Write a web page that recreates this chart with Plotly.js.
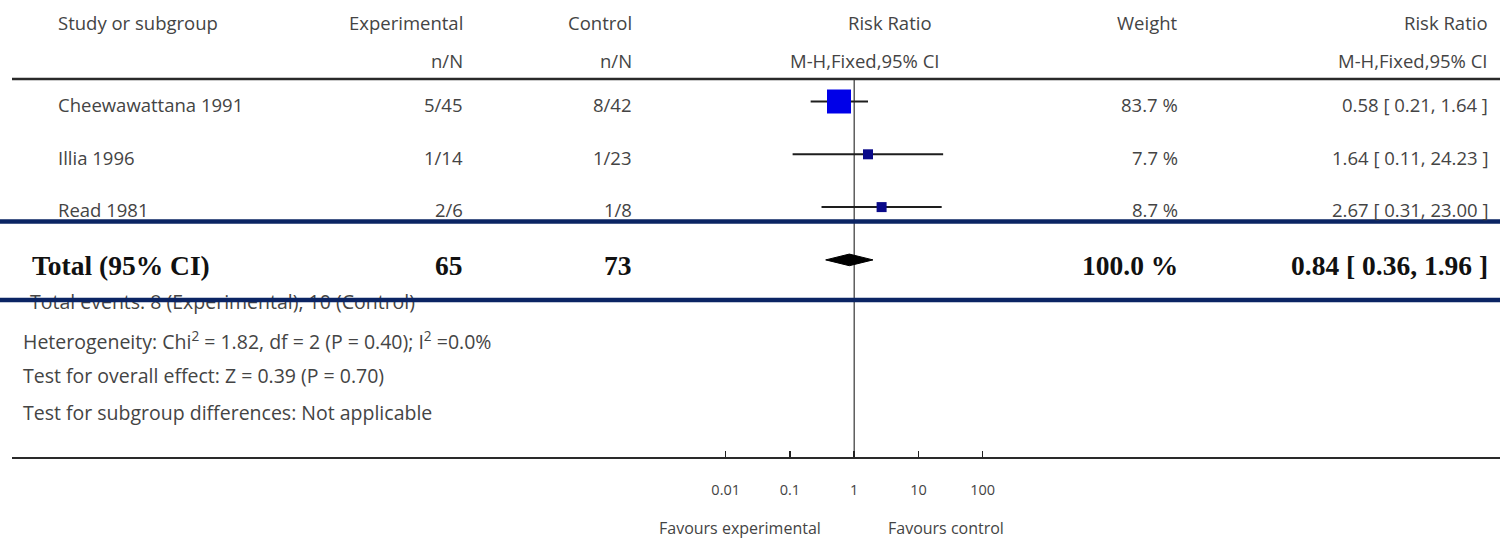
<!DOCTYPE html>
<html>
<head>
<meta charset="utf-8">
<script src="https://cdn.plot.ly/plotly-3.0.1.min.js"></script>
<style>html,body{margin:0;padding:0;background:#fff;}#chart{width:1500px;height:539px;}</style>
</head>
<body>
<div id="chart"></div>
<script>
// ---- data ----
const studies = ["Cheewawattana 1991", "Illia 1996", "Read 1981"];
const expEvents = [5, 1, 2];
const expTotal = [45, 14, 6];
const ctrlEvents = [8, 1, 1];
const ctrlTotal = [42, 23, 8];
const weights = [83.7, 7.7, 8.7];
const riskRatio = [0.58, 1.64, 2.67];
const ciLow = [0.21, 0.11, 0.31];
const ciHigh = [1.64, 24.23, 23.00];

const totalLabel = "Total (95% CI)";
const totalExpN = 65;
const totalCtrlN = 73;
const totalWeight = 100.0;
const totalRR = 0.84;
const totalLow = 0.36;
const totalHigh = 1.96;
const totalExpEvents = 8;
const totalCtrlEvents = 10;

const tickVals = [0.01, 0.1, 1, 10, 100];
const tickText = ["0.01", "0.1", "1", "10", "100"];

const footnotes = [
  "Heterogeneity: Chi<sup>2</sup> = 1.82, df = 2 (P = 0.40); I<sup>2</sup> =0.0%",
  "Test for overall effect: Z = 0.39 (P = 0.70)",
  "Test for subgroup differences: Not applicable"
];

// ---- layout helpers ----
const W = 1500, H = 539;
const py = p => 1 - p / H;      // pixel y -> paper
const px = p => p / W;          // pixel x -> paper
const SANS = "'Open Sans', Lato, sans-serif";
const SERIF = "'Liberation Serif', 'DejaVu Serif', serif";
const TXT = "#444";
const FS = 18.5;
const FOOT = 19.5;
const annotations = [];
function ann(text, x, y, xanchor, font) {
  const shift = xanchor === "right" ? 2 : (xanchor === "left" ? -2 : 0);
  annotations.push({
    text: text, xref: "paper", yref: "paper", x: px(x + shift), y: py(y),
    xanchor: xanchor, yanchor: "middle", showarrow: false,
    font: Object.assign({family: SANS, size: FS, color: TXT}, font || {})
  });
}

// header
ann("Study or subgroup", 58, 23, "left");
ann("Experimental", 463, 23, "right");
ann("Control", 632, 23, "right");
ann("Risk Ratio", 890, 23, "center");
ann("Weight", 1178, 23, "right");
ann("Risk Ratio", 1488, 23, "right");
ann("n/N", 463, 61, "right");
ann("n/N", 632, 61, "right");
ann("M-H,Fixed,95% CI", 865, 61, "center");
ann("M-H,Fixed,95% CI", 1488, 61, "right");

// study rows
const rowY = [104, 157, 209];
studies.forEach((s, i) => {
  ann(s, 58, rowY[i], "left");
  ann(expEvents[i] + "/" + expTotal[i], 463, rowY[i], "right");
  ann(ctrlEvents[i] + "/" + ctrlTotal[i], 632, rowY[i], "right");
  ann(weights[i].toFixed(1) + " %", 1178, rowY[i], "right");
  ann(riskRatio[i].toFixed(2) + " [ " + ciLow[i].toFixed(2) + ", " + ciHigh[i].toFixed(2) + " ]", 1488, rowY[i], "right");
});

// total row
const bold = {family: SERIF, size: 27.5, color: "#111"};
ann("<b>" + totalLabel + "</b>", 32, 265, "left", bold);
ann("<b>" + totalExpN + "</b>", 463, 265, "right", bold);
ann("<b>" + totalCtrlN + "</b>", 632, 265, "right", bold);
ann("<b>" + totalWeight.toFixed(1) + " %</b>", 1178, 265, "right", bold);
ann("<b>" + totalRR.toFixed(2) + " [ " + totalLow.toFixed(2) + ", " + totalHigh.toFixed(2) + " ]</b>", 1488, 265, "right", bold);

// footnotes
const footY = [340, 376, 412];
footnotes.forEach((f, i) => ann(f, 23, footY[i], "left", {size: FOOT}));

// bottom labels
ann("Favours experimental", 740, 528, "center", {size: 16});
ann("Favours control", 946, 528, "center", {size: 16});

// ---- traces ----
const rows = studies.map((_, i) => i);
const squares = {
  type: "scatter", mode: "markers",
  x: riskRatio, y: rows,
  marker: {symbol: "square", size: [24, 10, 10], opacity: 1,
           color: ["#0000e8", "#0a0a8a", "#0a0a8a"], line: {width: 0}},
  error_x: {
    type: "data", symmetric: false,
    array: riskRatio.map((r, i) => ciHigh[i] - r),
    arrayminus: riskRatio.map((r, i) => r - ciLow[i]),
    color: "#1e1e1e", thickness: 2, width: 0
  },
  hoverinfo: "skip", showlegend: false
};
const totalRow = studies.length;
const dh = 0.11;
const diamond = {
  type: "scatter", mode: "lines",
  x: [totalLow, totalRR, totalHigh, totalRR, totalLow],
  y: [totalRow, totalRow - dh, totalRow, totalRow + dh, totalRow],
  fill: "toself", fillcolor: "#000", line: {color: "#000", width: 1},
  hoverinfo: "skip", showlegend: false
};
// total events line as text trace (drawn under the navy rule, as in the reference)
const eventsText = {
  type: "scatter", mode: "text", xaxis: "x2", yaxis: "y2",
  x: [30], y: [304],
  text: ["Total events: " + totalExpEvents + " (Experimental), " + totalCtrlEvents + " (Control)"],
  textposition: "middle right",
  textfont: {family: SANS, size: FOOT, color: TXT},
  hoverinfo: "skip", showlegend: false
};

// ---- axes ----
const pxPerDecade = 64.25, onePx = 854.2;
const r0 = -onePx / pxPerDecade, r1 = r0 + W / pxPerDecade;
const rowPx0 = 101.5, rowStep = 52.8;
const yTop = -rowPx0 / rowStep, yBot = yTop + H / rowStep;

const layout = {
  width: W, height: H,
  margin: {l: 0, r: 0, t: 0, b: 0, pad: 0},
  paper_bgcolor: "#fff", plot_bgcolor: "rgba(0,0,0,0)",
  showlegend: false,
  xaxis: {
    type: "log", range: [r0, r1], domain: [0, 1],
    anchor: "free", position: py(458),
    tickvals: tickVals, ticktext: tickText,
    ticks: "inside", ticklen: 7, tickwidth: 1.5, tickcolor: "#222",
    ticklabelstandoff: 21,
    tickfont: {family: SANS, size: 14.5, color: TXT},
    showgrid: false, zeroline: false, showline: false, fixedrange: true
  },
  yaxis: {
    range: [yBot, yTop], domain: [0, 1],
    showgrid: false, zeroline: false, showline: false, showticklabels: false, ticks: "", fixedrange: true
  },
  xaxis2: {overlaying: "x", range: [0, W], visible: false, fixedrange: true},
  yaxis2: {overlaying: "y", range: [H, 0], visible: false, fixedrange: true},
  shapes: [
    {type: "line", xref: "paper", yref: "paper", x0: px(12), x1: 1, y0: py(79), y1: py(79), line: {color: "#2a2a2a", width: 2.5}},
    {type: "line", xref: "paper", yref: "paper", x0: px(12), x1: 1, y0: py(458), y1: py(458), line: {color: "#2a2a2a", width: 2}},
    {type: "line", xref: "x", yref: "paper", x0: 1, x1: 1, y0: py(79), y1: py(458), line: {color: "#444", width: 1.3}, layer: "below"},
    {type: "line", xref: "paper", yref: "paper", x0: 0, x1: 1, y0: py(221.5), y1: py(221.5), line: {color: "#0b2463", width: 4.5}, layer: "above"},
    {type: "line", xref: "paper", yref: "paper", x0: 0, x1: 1, y0: py(300), y1: py(300), line: {color: "#0b2463", width: 4.5}, layer: "above"}
  ],
  annotations: annotations
};

Plotly.newPlot("chart", [squares, diamond, eventsText], layout, {staticPlot: true, displayModeBar: false});
</script>
</body>
</html>
